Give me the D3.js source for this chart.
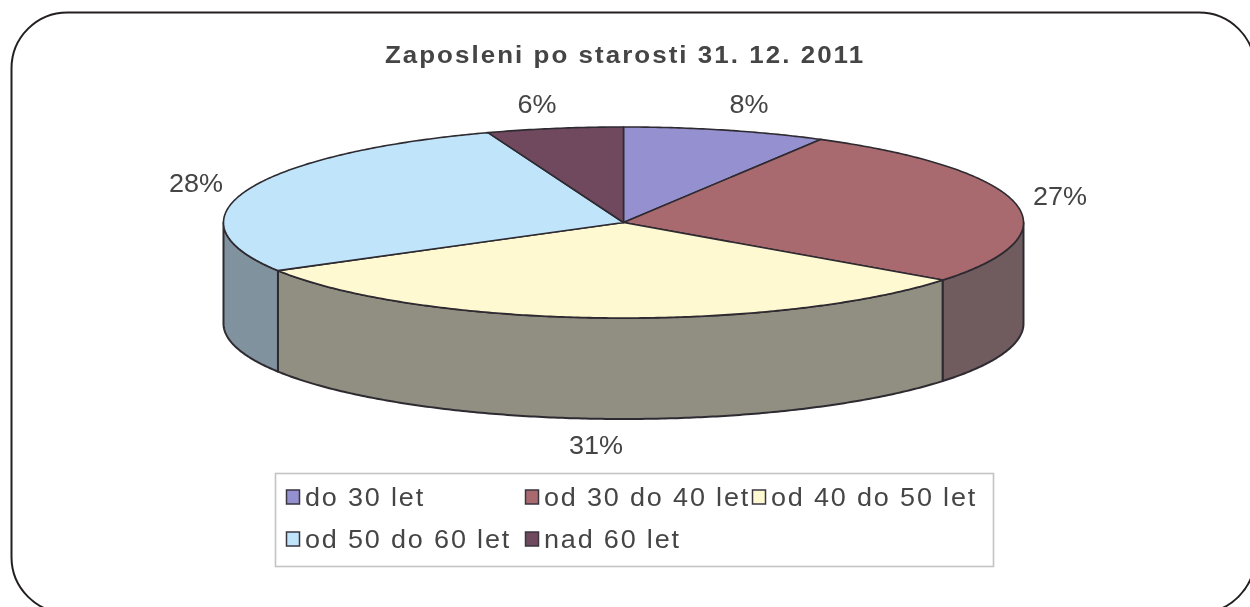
<!DOCTYPE html>
<html><head><meta charset="utf-8">
<script src="https://cdn.jsdelivr.net/npm/d3@7/dist/d3.min.js"></script>
<style>
html,body{margin:0;padding:0;background:#fff;overflow:hidden}
svg{display:block}
text{font-family:"Liberation Sans",Arial,sans-serif;fill:#444}
</style></head><body>
<svg id="c" width="1250" height="607"></svg>
<script>
const title = "Zaposleni po starosti 31. 12. 2011";
const categories = ["do 30 let","od 30 do 40 let","od 40 do 50 let","od 50 do 60 let","nad 60 let"];
const values = [8.2,27.1,31.3,27.9,5.5];
const labels = ["8%","27%","31%","28%","6%"];
const topColors = ["#9590cf","#a86a6e","#fff9d2","#c0e4fa","#6f4a5e"];
const sideColors = ["#6f6c96","#6f5b5f","#918f82","#7f929e","#5a4450"];

const svg=d3.select("#c");
const cx=623.5, cy=222.5, rx=400, ry=95.5, depth=101;
const x=d3.scaleLinear().domain([-1,1]).range([cx-rx,cx+rx]);
const y=d3.scaleLinear().domain([-1,1]).range([cy-ry,cy+ry]);
const stroke="#2e2a30";
const stretch=1.08;

const defs=svg.append("defs");
defs.append("filter").attr("id","soft").attr("x","-5%").attr("y","-5%").attr("width","110%").attr("height","110%")
  .append("feGaussianBlur").attr("stdDeviation",0.45);

// outer frame, running off the canvas
svg.append("rect").attr("x",11.5).attr("y",12.5).attr("width",1243.5).attr("height",600.5)
  .attr("rx",56).attr("ry",56).attr("fill","#fff").attr("stroke","#231f20").attr("stroke-width",2);

const chart=svg.append("g").attr("filter","url(#soft)");

const pie=d3.pie().sort(null).value(d=>d);
const arcs=pie(values);
const pt=(a,dz=0)=>[x(Math.sin(a)),y(-Math.cos(a))+dz];
const arcPts=(a0,a1,dz=0)=>{
  const n=Math.max(2,Math.ceil((a1-a0)/0.01));
  return d3.range(n+1).map(i=>pt(a0+(a1-a0)*i/n,dz));
};
const line=d3.line();

// side walls (front half only)
const lo=Math.PI/2, hi=3*Math.PI/2;
arcs.forEach((d,i)=>{
  const a0=Math.max(d.startAngle,lo), a1=Math.min(d.endAngle,hi);
  if(a1<=a0) return;
  const pts=arcPts(a0,a1).concat(arcPts(a0,a1,depth).reverse());
  chart.append("path").attr("d",line(pts)+"Z").attr("fill",sideColors[i])
    .attr("stroke",stroke).attr("stroke-width",2).attr("stroke-linejoin","round");
});

// top slices
arcs.forEach((d,i)=>{
  const pts=[[cx,cy]].concat(arcPts(d.startAngle,d.endAngle));
  chart.append("path").attr("d",line(pts)+"Z").attr("fill",topColors[i])
    .attr("stroke",stroke).attr("stroke-width",1.6).attr("stroke-linejoin","round");
});

// title
chart.append("text").attr("transform",`translate(625,63) scale(${stretch},1)`).attr("text-anchor","middle")
  .attr("font-size",24).attr("font-weight","bold").attr("letter-spacing",1.9).text(title);

// data labels
const labelAnchors=[[749,113],[1060,205],[596,454],[196,192],[537,113]];
chart.append("g").selectAll("text").data(labels).join("text")
  .attr("transform",(d,i)=>`translate(${labelAnchors[i][0]},${labelAnchors[i][1]}) scale(${stretch},1)`)
  .attr("text-anchor","middle").attr("font-size",25).text(d=>d);

// legend
chart.append("rect").attr("x",275.5).attr("y",473.5).attr("width",718).attr("height",93)
  .attr("fill","#fff").attr("stroke","#c4c4c4").attr("stroke-width",1.6);
const cellPos=[[286,497],[525,497],[752,497],[286,539],[525,539]];
const lg=chart.append("g").selectAll("g").data(categories).join("g")
  .attr("transform",(d,i)=>`translate(${cellPos[i][0]},${cellPos[i][1]})`);
lg.append("rect").attr("x",0.5).attr("y",-7).attr("width",13).attr("height",14)
  .attr("fill",(d,i)=>topColors[i]).attr("stroke","#3a3440").attr("stroke-width",1.5);
lg.append("text").attr("transform",`translate(19,9) scale(${stretch},1)`)
  .attr("font-size",25).attr("letter-spacing",1.7).text(d=>d);
</script>
</body></html>
